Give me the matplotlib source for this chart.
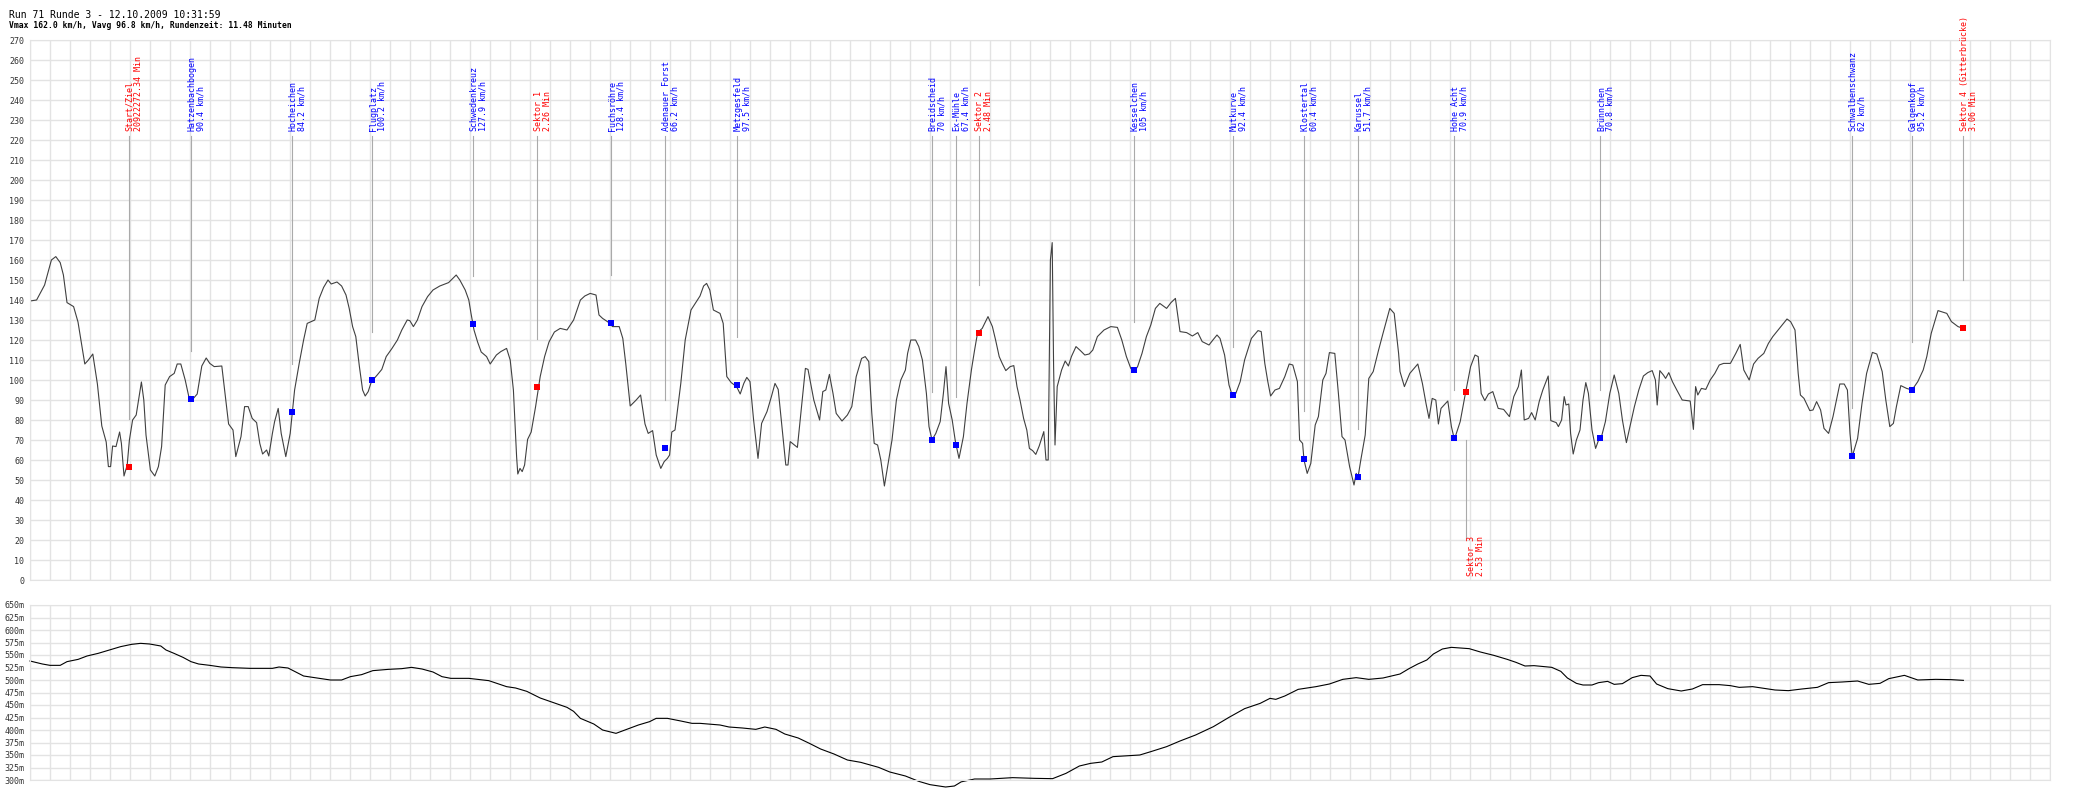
import numpy as np
import matplotlib.pyplot as plt

# Rundendaten: Position (Streckenabschnitt) und Geschwindigkeit km/h
speed_trace = [
    (0, 139.5), (3.3, 140), (7.3, 147.5), (10.7, 160), (12.9, 161.7), (15.1, 158.7), (16.7, 152.5),
    (18.5, 138.7), (21.8, 136.7), (24, 129), (25.8, 118), (27.4, 108), (29.2, 110), (31.4, 113),
    (33.7, 98), (35.9, 77), (38.1, 69), (39.2, 56.7), (40.3, 56.7), (41.3, 67), (43, 66.7),
    (44.8, 74), (45.7, 68.3), (47, 52), (48.6, 57.5), (49.7, 70), (51.3, 80), (53.1, 82.5),
    (55.7, 99), (56.9, 90), (58, 72.5), (60.2, 55), (62.4, 52), (64.2, 56.7), (65.8, 66.7),
    (67.6, 97.5), (69.8, 101.7), (72.1, 103.3), (73.6, 108), (75.4, 108), (77.6, 100), (79.4, 91.7),
    (81, 90), (83.6, 93), (85.9, 107), (88.1, 111), (89.9, 108.3), (92.1, 106.7), (95.9, 107),
    (97.7, 91.7), (99.3, 78), (101.5, 75), (102.9, 61.7), (105.5, 71.7), (107.3, 86.7), (109.1, 86.7),
    (111.1, 80.8), (113.3, 78.7), (114.9, 68.3), (116.3, 63), (118.3, 65), (119.4, 62), (121.2, 73.3),
    (122.3, 79.2), (124.1, 85.8), (125.6, 73.3), (127.9, 61.7), (130.1, 73.3), (132.3, 95),
    (134.6, 108.3), (136.8, 120), (138.6, 128.3), (142.4, 130), (144.6, 140.8), (146.8, 146.3),
    (149, 150), (150.6, 148), (153.5, 149), (155.8, 147), (158, 142.5), (159.6, 135.8), (161.3, 126.7),
    (162.9, 121.7), (164.7, 106.7), (166.3, 95), (167.6, 92), (169.1, 94.2), (170.7, 99.2),
    (173.6, 102.5), (175.9, 105.3), (178.1, 111.7), (181, 115.8), (183.7, 120), (185.9, 125),
    (188.6, 130), (189.9, 129.7), (191.7, 126.7), (193.7, 130), (196, 136.7), (198.8, 141.7),
    (201.5, 145), (204.9, 147), (209.3, 148.7), (213.1, 152.5), (214.9, 150), (217.6, 145),
    (219.4, 140), (220.5, 133.3), (222, 125), (223.8, 119), (225.6, 114), (228.3, 111.7),
    (230.1, 108), (233.2, 112.5), (235.4, 114.2), (238.3, 115.8), (240.1, 110), (241.7, 95),
    (243.3, 61.7), (243.9, 53), (245, 55.8), (246.1, 54.2), (247.3, 57.5), (248.8, 70.3), (250.6, 74),
    (252.8, 86.7), (255.1, 101.7), (257.3, 111.7), (259.5, 119), (262.2, 124), (265.1, 125.8),
    (268.5, 125), (271.8, 130), (275.2, 140), (277.4, 142), (280.1, 143.3), (283, 142.5),
    (284.5, 132.5), (286.3, 130.8), (289, 129), (291.3, 126.7), (294.6, 126.7), (296.4, 120.8),
    (297.9, 108), (300.1, 87), (303.1, 90), (305.3, 92.5), (307.5, 78), (309.1, 73.3), (311.3, 74.7),
    (313.1, 62.5), (315.4, 55.8), (317.1, 59.2), (318.7, 60.8), (319.8, 62.5), (320.9, 74),
    (322.5, 75), (325.4, 98.3), (327.6, 120), (330.5, 135), (335, 142), (336.8, 147), (338.3, 148.3),
    (339.9, 145), (341.7, 135), (345, 133.3), (346.6, 128.3), (348.4, 101.7), (350.6, 98.7),
    (353.3, 96.7), (355.1, 93), (356.9, 98.3), (358.4, 101.3), (360, 99.2), (361.8, 80), (364, 60.8),
    (365.8, 78.3), (368.5, 84.2), (370.7, 91.7), (372.5, 98.3), (374.1, 95.3), (375.8, 78.3),
    (377.9, 57.5), (379, 57.5), (380.1, 69.2), (383.7, 66.3), (385.9, 88.3), (387.7, 105.8),
    (389, 105.3), (391.9, 90), (394.8, 80), (396.4, 94.2), (397.9, 95), (399.7, 102.8), (401.5, 93.3),
    (403.1, 83.3), (406, 79.5), (408.7, 82.5), (410.9, 86.7), (413.1, 101.7), (415.8, 110.8),
    (417.6, 111.7), (419.4, 109.2), (420.9, 83.3), (422.1, 68.3), (423.8, 67.5), (425.4, 60),
    (427.2, 47), (428.8, 56.7), (431, 70), (433.2, 90), (435.4, 100), (437.7, 105), (438.8, 113.3),
    (440.4, 120), (442.8, 120), (444.4, 116.7), (446.2, 110), (448.2, 93.3), (449.5, 76.7), (451, 70),
    (452.9, 73.3), (455.1, 79.2), (456.7, 93.3), (458, 106.7), (459.3, 88.3), (461.1, 80),
    (462.7, 69.2), (464.5, 60.8), (466.7, 71.7), (468.5, 88.3), (470.7, 105), (472.3, 115),
    (473.8, 123.7), (476.1, 125.8), (479, 131.7), (481.2, 126.7), (482.8, 120), (484.6, 111.7),
    (486.1, 108.3), (487.9, 104.7), (490.1, 106.7), (491.9, 107.2), (493.5, 96.7), (495, 90),
    (496.8, 80.8), (498.4, 75), (499.7, 65.8), (501.3, 64.7), (502.9, 62.8), (504.6, 67),
    (506.9, 74.2), (508, 60), (509.1, 60), (510.2, 160), (511.1, 168.7), (511.8, 106.7), (512.5, 67.5),
    (513.6, 96.7), (515.8, 105), (517.6, 109.5), (519.2, 107), (520.7, 111.7), (523, 116.7),
    (525.2, 114.7), (527.4, 112.5), (529.6, 113), (531.4, 115), (533.7, 121.7), (537, 125),
    (540.4, 126.7), (543.7, 126.3), (545.9, 120), (548.2, 111.7), (550.4, 105.8), (552, 104),
    (553.8, 106.7), (556, 113.3), (558.2, 121.7), (560.4, 127.5), (562.7, 135.8), (564.9, 138.3),
    (568.3, 135.8), (570.5, 138.7), (572.7, 140.8), (575, 124.2), (578.3, 123.7), (581.2, 122),
    (583.9, 123.7), (586.1, 119.2), (589.5, 117.5), (591.7, 120.3), (593.5, 122.5), (595, 120.8),
    (597.3, 112.5), (599.5, 97.5), (601.3, 91.7), (602.9, 93.3), (605.1, 99.2), (607.3, 110),
    (610.7, 120.8), (614, 124.7), (615.6, 124.2), (617.4, 108.3), (618.9, 99.2), (620.3, 92),
    (622.5, 95), (624.7, 95.8), (627.4, 101.7), (629.6, 108), (631.4, 107.5), (633.7, 99.2),
    (634.8, 70), (636.3, 68.3), (637, 60), (638.6, 53.3), (640.4, 58.3), (642.6, 77.5), (644.2, 81.7),
    (646.4, 100), (648, 103.3), (649.7, 113.7), (652.4, 113.3), (654.2, 93.3), (656, 71.7),
    (657.5, 70), (659.8, 56.7), (662, 47.5), (663.1, 53.3), (664, 51.3), (665.4, 60), (667.6, 72.5),
    (669.4, 100.8), (671.6, 104.2), (674.3, 115), (676.5, 123.3), (679.9, 135.8), (682.1, 133.3),
    (684.3, 113.3), (685, 104.2), (687.2, 96.7), (689.9, 103.3), (693.9, 108), (696.2, 98.3),
    (698, 88.3), (699.5, 80.8), (701.1, 90.8), (702.9, 90), (704.2, 78), (705.5, 85.8), (708.9, 89.5),
    (710.7, 76.7), (712.2, 70.3), (715.1, 79.2), (717.8, 93.8), (720.3, 106.7), (722.5, 112.5),
    (724.1, 111.7), (725.6, 93.3), (727.4, 89.7), (729.2, 93), (731.4, 94.2), (734.1, 85.8),
    (736.8, 85.3), (739.7, 81.7), (741.9, 91.7), (744.2, 96.7), (745.7, 105), (747.1, 80),
    (749.3, 80.8), (750.8, 83.7), (752.6, 80), (754.6, 89.2), (756.4, 95), (759.1, 102), (760.4, 79.7),
    (763.1, 78.7), (764.2, 76.7), (765.8, 80), (767.1, 91.7), (768, 87.5), (769.4, 88), (770.3, 73.3),
    (771.6, 63), (773.2, 70), (775, 75), (776.5, 90), (777.9, 98.7), (779.2, 93.3), (781, 75),
    (782.8, 65.8), (784.3, 70), (785.4, 70.3), (787.7, 79.2), (789.9, 93.3), (792.1, 102.5),
    (794.4, 93.3), (796.2, 80), (798.2, 68.7), (800, 76.7), (802.2, 86.7), (804.4, 95), (806.7, 102),
    (808.9, 103.7), (811.1, 104.7), (812.7, 100), (813.6, 87.5), (814.9, 104.7), (816.7, 102.5),
    (817.8, 100.8), (819.4, 103.7), (821.2, 99.2), (823.4, 95), (826.1, 90), (830.1, 89.5),
    (831.7, 75.3), (832.8, 96.7), (833.9, 92.5), (835.7, 95.8), (837.9, 95.3), (840.1, 100),
    (842.4, 103.3), (844.6, 107.5), (846.8, 108.3), (850.2, 108.3), (852.9, 113.3), (855.1, 117.8),
    (856.9, 105), (859.6, 100), (861.8, 108), (864, 110.8), (866.9, 113.3), (869.2, 118.3),
    (871.4, 121.7), (874.7, 125.8), (878.5, 130.5), (880.3, 129.2), (882.5, 125), (884.1, 103.3),
    (885.2, 92.5), (887, 90.8), (889.9, 84.7), (891.5, 85), (893.3, 89.2), (895.3, 85), (897, 75.8),
    (899.3, 73.3), (901.5, 81.7), (904.9, 98), (907.1, 98), (908.7, 95), (910, 73.3), (911.1, 61.7),
    (913.8, 70.8), (916, 88.3), (918.3, 103.3), (921.2, 113.8), (923.4, 113), (926.1, 104.2),
    (927.9, 90), (929.9, 76.7), (931.7, 78.3), (933.2, 86.7), (935.4, 97.2), (938.3, 95.8), (941, 95),
    (943.9, 99.2), (946.6, 105), (948.4, 111.7), (950.6, 123.3), (954, 134.7), (958.4, 133.3),
    (960.7, 129.2), (964, 126.7), (966.7, 125.8),
]

# Hoehenprofil: Position und Hoehe in m
alt_trace = [
    (0, 538), (6.2, 532), (10, 529.3), (15.1, 529.3), (18.5, 536.7), (24.1, 541.3), (28.5, 548),
    (34.1, 553.3), (39.7, 560), (45.3, 566.7), (50.8, 571.3), (55.3, 573.3), (59.8, 572), (65.4, 568),
    (68, 560), (72, 553.3), (76.5, 545.3), (80.5, 536.7), (84.3, 532), (89.9, 529.3), (95.5, 526),
    (101, 524.7), (110, 523.3), (121.2, 523.3), (124.5, 526), (129, 524), (132.3, 517.3), (136.8, 508),
    (143.5, 504), (150.2, 500), (155.8, 500), (160.2, 506.7), (165.8, 510.7), (171.4, 518.7),
    (179.2, 521.3), (185.9, 522.7), (190.8, 525.3), (196, 522), (201.5, 516), (206, 506.7),
    (210.4, 503.3), (219.4, 503.3), (223.8, 501.3), (229.4, 498.7), (233.4, 493.3), (238.3, 486.7),
    (242.8, 484), (248.4, 477.3), (255.1, 464), (261.8, 454.7), (268.5, 445.3), (271.8, 437.3),
    (275.2, 423.3), (281.9, 412), (286.3, 400), (293, 393.3), (297.5, 400), (304.2, 410),
    (309.8, 416.7), (313.1, 423.3), (318.7, 423.3), (325.4, 418), (331, 413.3), (335, 413.3),
    (345, 410), (349.5, 406), (356.2, 404), (362.9, 401.3), (367.4, 406), (373, 401.3), (377.4, 392),
    (384.1, 384), (389.7, 373.3), (395.3, 362), (402, 352), (408.7, 340), (415.4, 335.3),
    (424.3, 325.3), (429.9, 316), (437.7, 308), (444.4, 297.3), (450, 290.7), (457.8, 286),
    (462.2, 288), (465.6, 296.3), (472.3, 302), (480.1, 302), (491.3, 304.7), (502.4, 303.3),
    (511.3, 302.7), (518, 313.3), (524.7, 328), (530.3, 333.3), (535.9, 336), (541.5, 346.7),
    (547, 348), (554.9, 350), (560.4, 356.7), (568.3, 366.7), (575, 378), (582.8, 390),
    (591.7, 406.7), (599.5, 425.3), (607.3, 442.7), (615.1, 453.3), (620, 463.3), (622.9, 461.3),
    (627.4, 468), (634.1, 481.3), (643, 486.7), (649.7, 492), (656.4, 501.3), (663.1, 504.7),
    (669.4, 501.3), (676.5, 504), (685, 512), (689.5, 522.7), (693.9, 532), (698.4, 540),
    (701.7, 552), (706.2, 562), (710.7, 565.3), (719.6, 562.7), (725.2, 556), (731.9, 549.3),
    (738.6, 541.3), (743, 535.3), (747.5, 528), (752, 528.7), (760.9, 525.3), (765.4, 517.3),
    (768.7, 504), (773.2, 493.3), (776.5, 490), (781, 490), (784.3, 494.7), (788.8, 497.3),
    (792.1, 491.3), (796.2, 492.7), (801.1, 504.7), (805.5, 509.3), (810, 508), (813.3, 492),
    (818.9, 482.7), (825.6, 478), (831.2, 482), (836.3, 490.7), (844.6, 490.7), (850.2, 488.7),
    (854.6, 485.3), (861.3, 486.7), (866.9, 483.3), (872.5, 480), (879.2, 478.7), (885.9, 482),
    (893.7, 485.3), (899.3, 494.7), (906, 496), (913.8, 498), (919.4, 491.3), (925, 493.3),
    (929.4, 502.7), (937.2, 509.3), (943.9, 500), (952.9, 501.3), (960.7, 500.7), (966.7, 499.3),
]

# Streckenpunkte
mark_names = ['Start/Ziel', 'Hatzenbachbogen', 'Hocheichen', 'Flugplatz', 'Schwedenkreuz',
              'Sektor 1', 'Fuchsröhre', 'Adenauer Forst', 'Metzgesfeld', 'Breidscheid',
              'Ex-Mühle', 'Sektor 2', 'Kesselchen', 'Mutkurve', 'Klostertal', 'Karussel',
              'Hohe Acht', 'Sektor 3', 'Brünnchen', 'Schwalbenschwanz', 'Galgenkopf',
              'Sektor 4 (Gitterbrücke)']
mark_info = ['20922272.34 Min', '90.4 km/h', '84.2 km/h', '100.2 km/h', '127.9 km/h',
             '2.26 Min', '128.4 km/h', '66.2 km/h', '97.5 km/h', '70 km/h',
             '67.4 km/h', '2.48 Min', '105 km/h', '92.4 km/h', '60.4 km/h', '51.7 km/h',
             '70.9 km/h', '2.53 Min', '70.8 km/h', '62 km/h', '95.2 km/h', '3.06 Min']
mark_pos = [49.3, 80.5, 131.2, 171.2, 221.6, 253.5, 290.6, 317.6, 353.3, 451.0,
            463.1, 474.3, 552.0, 601.5, 637.0, 664.0, 712.2, 717.8, 785.2, 911.1, 941.0, 966.7]
mark_val = [56.7, 90.4, 84.2, 100.2, 127.9, 96.3, 128.4, 66.2, 97.5, 70,
            67.4, 123.7, 105, 92.4, 60.4, 51.7, 70.9, 93.8, 70.8, 62, 95.2, 125.8]
mark_sector = [True, False, False, False, False, True, False, False, False, False,
               False, True, False, False, False, False, False, True, False, False, False, True]

title = 'Run 71 Runde 3 - 12.10.2009 10:31:59'
subtitle = 'Vmax 162.0 km/h, Vavg 96.8 km/h, Rundenzeit: 11.48 Minuten'

sp = np.array(speed_trace)
al = np.array(alt_trace)

grid_c = '#e3e3e3'
mono = 'DejaVu Sans Mono'

fig = plt.figure(figsize=(21, 8), dpi=100)
ax = fig.add_axes([30/2100, 1 - 580/800, 2020/2100, 540/800])
ax2 = fig.add_axes([30/2100, 1 - 780/800, 2020/2100, 175/800])

for a in (ax, ax2):
    a.set_xlim(0, 1010)
    a.set_xticks(np.arange(0, 1011, 10))
    a.tick_params(axis='x', length=0, labelbottom=False)
    a.tick_params(axis='y', length=0, pad=4, labelsize=6, colors='#333333')
    a.grid(True, color=grid_c, linewidth=1)
    a.set_axisbelow(True)
    for s in a.spines.values():
        s.set_color(grid_c)

ax.set_ylim(0, 270)
ax.set_yticks(np.arange(0, 271, 10))
ax.set_yticklabels([str(v) for v in range(0, 271, 10)], family=mono)

ax2.set_ylim(300, 650)
ax2.set_yticks(np.arange(300, 651, 25))
ax2.set_yticklabels([f'{v}m' for v in range(300, 651, 25)], family=mono)

ax.plot(sp[:, 0], sp[:, 1], color='#404040', linewidth=0.8)
ax2.plot(al[:, 0], al[:, 1], color='black', linewidth=0.8, clip_on=False)

for name, info, p, v, sek in zip(mark_names, mark_info, mark_pos, mark_val, mark_sector):
    col = 'red' if sek else 'blue'
    if name == 'Sektor 3':
        # Beschriftung unterhalb
        ax.plot([p, p], [v - 24, 21], color='#aaaaaa', linewidth=0.8)
        ax.annotate(name + '\n' + info, (p, 2), xytext=(1, 0), textcoords='offset points',
                    rotation=90, rotation_mode='anchor', ha='left', va='top',
                    color=col, fontsize=6, family=mono, linespacing=1.0)
    else:
        ax.plot([p, p], [v + 24, 222], color='#aaaaaa', linewidth=0.8)
        ax.annotate(name + '\n' + info, (p, 224.5), xytext=(-2.5, 0), textcoords='offset points',
                    rotation=90, rotation_mode='anchor', ha='left', va='top',
                    color=col, fontsize=6, family=mono, linespacing=1.0,
                    annotation_clip=False)
    ax.plot(p, v, 's', color=col, markersize=4, markeredgewidth=0)

fig.text(9/2100, 1 - 15/800, title, fontsize=7, family=mono, va='center', ha='left')
fig.text(9/2100, 1 - 26/800, subtitle, fontsize=5.8, family=mono, va='center', ha='left',
         fontweight='bold')

fig.savefig('out.png', dpi=100)
